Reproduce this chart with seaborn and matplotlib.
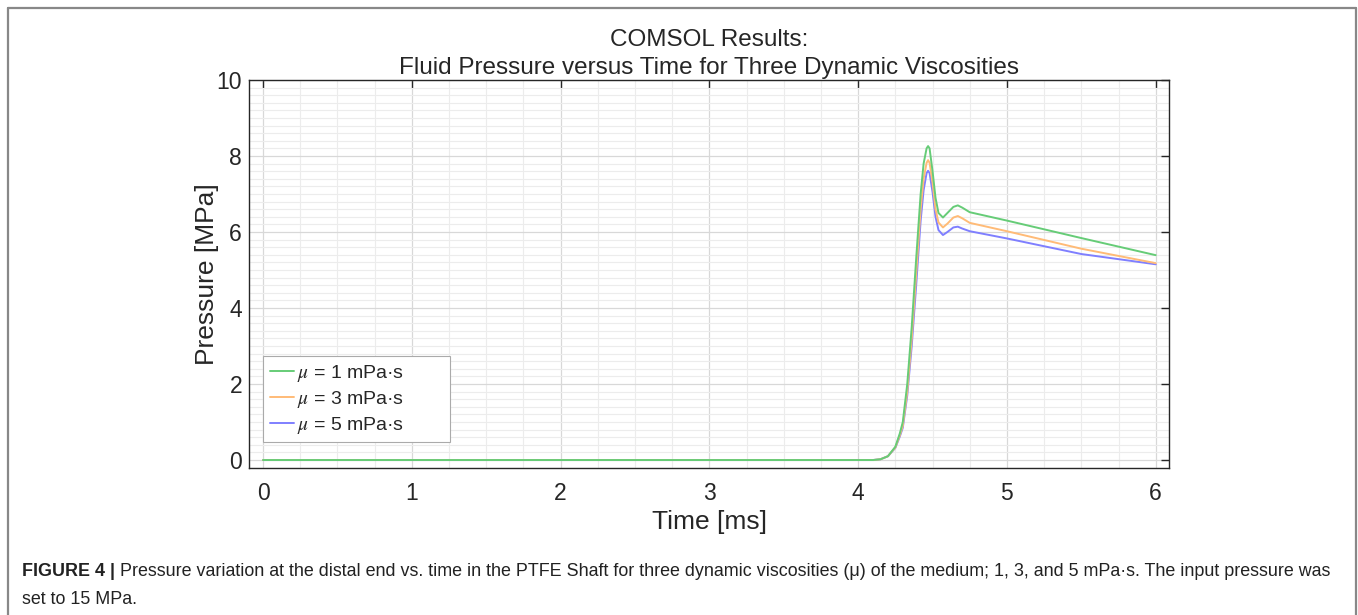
import numpy as np
import pandas as pd
import matplotlib
matplotlib.use('Agg')
import matplotlib.pyplot as plt
import seaborn as sns
from matplotlib.lines import Line2D
from matplotlib.ticker import MultipleLocator

# time samples [ms] shared by the three runs
time_ms = [0.0, 4.0, 4.1, 4.15, 4.2, 4.25, 4.28, 4.3, 4.33, 4.36, 4.39, 4.42, 4.44,
           4.46, 4.47, 4.48, 4.50, 4.52, 4.54, 4.57, 4.60, 4.64, 4.67, 4.70, 4.75,
           5.0, 5.5, 6.0]

p_mu1 = [0.0, 0.0, 0.0, 0.02, 0.1, 0.35, 0.7, 1.0, 2.0, 3.5, 5.3, 7.0, 7.8,
         8.2, 8.26, 8.2, 7.6, 6.9, 6.5, 6.38, 6.5, 6.66, 6.70, 6.64, 6.52,
         6.30, 5.84, 5.39]
p_mu3 = [0.0, 0.0, 0.0, 0.02, 0.1, 0.33, 0.65, 0.9, 1.8, 3.2, 4.9, 6.6, 7.4,
         7.82, 7.89, 7.82, 7.3, 6.6, 6.25, 6.12, 6.22, 6.38, 6.42, 6.36, 6.24,
         6.02, 5.56, 5.18]
p_mu5 = [0.0, 0.0, 0.0, 0.02, 0.1, 0.32, 0.62, 0.85, 1.7, 3.0, 4.6, 6.3, 7.1,
         7.55, 7.61, 7.55, 7.05, 6.4, 6.05, 5.92, 6.0, 6.12, 6.14, 6.09, 6.02,
         5.83, 5.42, 5.15]

labels = [r'$\mu$ = 1 mPa·s', r'$\mu$ = 3 mPa·s', r'$\mu$ = 5 mPa·s']
colors = ['#66cc77', '#ffbb77', '#7f7fff']

rows = []
for lab, vals in zip(labels, [p_mu1, p_mu3, p_mu5]):
    for t, p in zip(time_ms, vals):
        rows.append([t, p, lab])
df = pd.DataFrame(rows, columns=['Time', 'Pressure', 'Viscosity'])

sns.set_style('white')
plt.rcParams['font.family'] = ['Liberation Sans', 'DejaVu Sans']
plt.rcParams['mathtext.fontset'] = 'stix'

fig = plt.figure(figsize=(13.58, 6.15), dpi=100)
ax = fig.add_axes([0.1834, 0.239, 0.6775, 0.631])

# draw green last so it sits on top, like the original
for i in [2, 1, 0]:
    sub = df[df['Viscosity'] == labels[i]]
    sns.lineplot(data=sub, x='Time', y='Pressure', ax=ax, color=colors[i],
                 label=labels[i], linewidth=1.4, zorder=3 + (2 - i))

ax.set_xlim(-0.094, 6.09)
ax.set_ylim(-0.21, 10)
ax.xaxis.set_major_locator(MultipleLocator(1))
ax.xaxis.set_minor_locator(MultipleLocator(0.25))
ax.yaxis.set_major_locator(MultipleLocator(2))
ax.yaxis.set_minor_locator(MultipleLocator(0.2))
ax.grid(which='major', color='#d8d8d8', linewidth=0.9)
ax.grid(which='minor', color='#ececec', linewidth=0.8)
ax.set_axisbelow(True)

for s in ax.spines.values():
    s.set_visible(True)
    s.set_color('#262626')
    s.set_linewidth(1.0)
ax.tick_params(which='major', direction='in', length=6, width=1.0, color='#262626',
               top=True, right=True, labelsize=16.5, labelcolor='#262626', pad=10)
ax.tick_params(axis='y', which='major', pad=5)
ax.tick_params(which='minor', length=0)

ax.set_xlabel('Time [ms]', fontsize=19, color='#262626', labelpad=4)
ax.set_ylabel('Pressure [MPa]', fontsize=19, color='#262626', labelpad=-2)
ax.set_title('COMSOL Results:\nFluid Pressure versus Time for Three Dynamic Viscosities',
             fontsize=17.5, color='#262626', pad=4, linespacing=1.4)

h, l = ax.get_legend_handles_labels()
order = [l.index(x) for x in labels]
leg = ax.legend([h[k] for k in order], [l[k] + '        ' for k in order],
                loc='lower left', bbox_to_anchor=(0.0152, 0.066), fontsize=14,
                frameon=True, fancybox=False, framealpha=1, edgecolor='#aaaaaa',
                handlelength=1.25, handletextpad=0.15, borderaxespad=0,
                labelspacing=0.25, borderpad=0.35)
leg.get_frame().set_linewidth(0.8)

# page frame around the figure
frame_kw = dict(color='#888888', linewidth=1.6, transform=fig.transFigure)
fig.add_artist(Line2D([8 / 1358, 8 / 1358], [0, 1 - 8 / 615], **frame_kw))
fig.add_artist(Line2D([8 / 1358, 1356 / 1358], [1 - 8 / 615, 1 - 8 / 615], **frame_kw))
fig.add_artist(Line2D([1356 / 1358, 1356 / 1358], [0, 1 - 8 / 615], **frame_kw))

cap_size = 12.9
t_bold = fig.text(22 / 1358, 1 - 571 / 615, 'FIGURE 4 |', fontsize=cap_size,
                  fontweight='bold', va='center', color='#222222')
fig.canvas.draw()
bb = t_bold.get_window_extent().transformed(fig.transFigure.inverted())
fig.text(bb.x1 + 5 / 1358, 1 - 571 / 615,
         'Pressure variation at the distal end vs. time in the PTFE Shaft for three dynamic '
         'viscosities (\u03bc) of the medium; 1, 3, and 5 mPa\u00b7s. The input pressure was',
         fontsize=cap_size, va='center', color='#222222')
fig.text(22 / 1358, 1 - 600 / 615, 'set to 15 MPa.', fontsize=cap_size,
         va='center', color='#222222')

fig.savefig('out.png', dpi=100)
